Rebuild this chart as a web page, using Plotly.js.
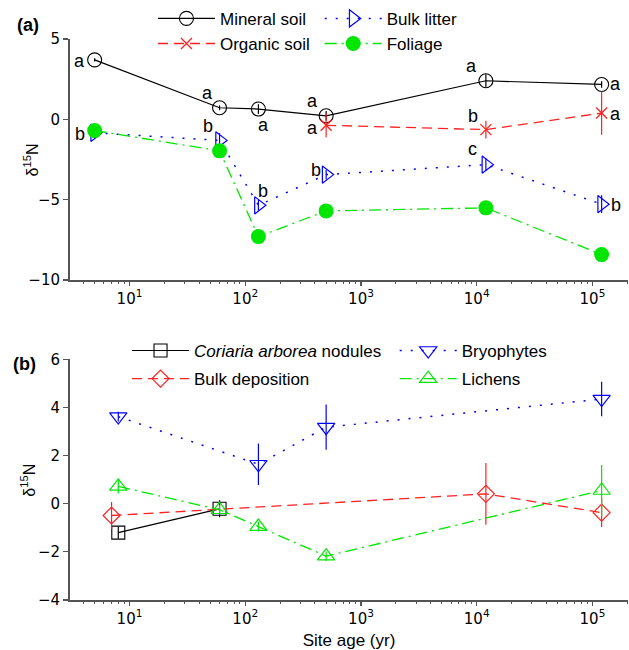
<!DOCTYPE html>
<html><head><meta charset="utf-8">
<script src="https://cdn.plot.ly/plotly-3.0.1.min.js"></script>
<style>html,body{margin:0;padding:0;background:#fff}#chart{width:629px;height:650px}</style>
</head><body><div id="chart"></div>
<script>
// ---- data: panel (a) ----
const agesA = [5, 60, 130, 500, 12000, 120000];
const mineralSoil = [3.70, 0.72, 0.64, 0.22, 2.40, 2.17];
const mineralSoilErr = [0.1, 0.15, 0.3, 0.3, 0.4, 0.2];
const agesOrganic = [500, 12000, 120000];
const organicSoil = [-0.37, -0.64, 0.39];
const organicSoilErr = [0.75, 0.55, 1.35];
const bulkLitter = [-0.84, -1.31, -5.35, -3.44, -2.82, -5.28];
const bulkLitterErr = [0.35, 0.45, 0.35, 0.3, 0.4, 0.55];
const foliage = [-0.70, -1.96, -7.30, -5.70, -5.51, -8.42];
const foliageErr = [0.2, 0.2, 0.3, 0.2, 0.2, 0.2];
const mineralLetters = ['a', 'a', 'a', 'a', 'a', 'a'];
const organicLetters = ['a', 'b', 'a'];
const litterLetters = ['b', 'b', 'b', 'b', 'c', 'b'];
// ---- data: panel (b) ----
const agesCoriaria = [8, 60];
const coriaria = [-1.2, -0.21];
const coriariaErr = [0.25, 0.35];
const agesDeposition = [7, 12000, 120000];
const deposition = [-0.49, 0.41, -0.37];
const depositionErr = [0.56, 1.28, 0.6];
const agesBryophytes = [8, 130, 500, 120000];
const bryophytes = [3.62, 1.64, 3.18, 4.35];
const bryophytesErr = [0.2, 0.86, 0.94, 0.72];
const agesLichens = [8, 60, 130, 500, 120000];
const lichens = [0.72, -0.25, -0.95, -2.18, 0.55];
const lichensErr = [0.3, 0.2, 0.2, 0.2, 1.06];
// ---- tick labels / titles ----
const xTickVals = [10, 100, 1000, 10000, 100000];
const xTickText = ['10<sup>1</sup>', '10<sup>2</sup>', '10<sup>3</sup>', '10<sup>4</sup>', '10<sup>5</sup>'];
const yTitle = 'δ<sup>15</sup>N';
const xTitle = 'Site age (yr)';

// ---- styling / placement (not data) ----
const axisColor = '#555555';
const green = '#00e600';
const FONT = 'Liberation Sans, Arial, Helvetica, sans-serif';
const TICKFONT = 'DejaVu Sans, Liberation Sans, sans-serif';
const minorVals = [];
for (let e = 0; e <= 5; e++) for (let m = 2; m <= 9; m++) minorVals.push(m * Math.pow(10, e));

function eb(arr, color) {
  return {type: 'data', array: arr, visible: true, width: 0, thickness: 1.2, color: color};
}

const traces = [
  {name: 'Mineral soil', x: agesA, y: mineralSoil, xaxis: 'x', yaxis: 'y', legend: 'legend',
   mode: 'lines+markers', line: {color: 'black', width: 1.2},
   marker: {symbol: 'circle-open', size: 14, color: 'black', line: {width: 1.1}},
   error_y: eb(mineralSoilErr, 'black')},
  {name: 'Organic soil', x: agesOrganic, y: organicSoil, xaxis: 'x', yaxis: 'y', legend: 'legend',
   mode: 'lines+markers', line: {color: '#ff2020', width: 1.3, dash: '10px,6px'},
   marker: {symbol: 'x-thin-open', size: 11, color: '#ff2020', line: {width: 1.3}},
   error_y: eb(organicSoilErr, '#ff2020')},
  {name: 'Bulk litter', x: agesA, y: bulkLitter, xaxis: 'x', yaxis: 'y', legend: 'legend2',
   mode: 'lines+markers', line: {color: '#0000ff', width: 1.5, dash: '2px,9px'},
   marker: {symbol: 'triangle-right-open', size: 15, color: '#0000ff', line: {width: 1.2}},
   error_y: eb(bulkLitterErr, '#0000ff')},
  {name: 'Foliage', x: agesA, y: foliage, xaxis: 'x', yaxis: 'y', legend: 'legend2',
   mode: 'lines+markers', line: {color: green, width: 1.3, dash: '12px,5px,2px,5px'},
   marker: {symbol: 'circle', size: 15, color: green},
   error_y: eb(foliageErr, green)},
  {name: '<i>Coriaria arborea</i> nodules', x: agesCoriaria, y: coriaria, xaxis: 'x2', yaxis: 'y2',
   legend: 'legend3', legendgroup: 'g1',
   mode: 'lines+markers', line: {color: 'black', width: 1.2},
   marker: {symbol: 'square-open', size: 13, color: 'black', line: {width: 1.1}},
   error_y: eb(coriariaErr, 'black')},
  {name: 'Bulk deposition', x: agesDeposition, y: deposition, xaxis: 'x2', yaxis: 'y2',
   legend: 'legend3', legendgroup: 'g2',
   mode: 'lines+markers', line: {color: '#ff2020', width: 1.3, dash: '10px,6px'},
   marker: {symbol: 'diamond-open', size: 13, color: '#ff2020', line: {width: 1.2}},
   error_y: eb(depositionErr, '#ff2020')},
  {name: 'Bryophytes', x: agesBryophytes, y: bryophytes, xaxis: 'x2', yaxis: 'y2',
   legend: 'legend4', legendgroup: 'g3',
   mode: 'lines+markers', line: {color: '#0000ff', width: 1.5, dash: '2px,9px'},
   marker: {symbol: 'triangle-down-open', size: 15, color: '#0000ff', line: {width: 1.2}},
   error_y: eb(bryophytesErr, '#0000ff')},
  {name: 'Lichens', x: agesLichens, y: lichens, xaxis: 'x2', yaxis: 'y2',
   legend: 'legend4', legendgroup: 'g4',
   mode: 'lines+markers', line: {color: green, width: 1.3, dash: '12px,5px,2px,5px'},
   marker: {symbol: 'triangle-up-open', size: 15, color: green, line: {width: 1.2}},
   error_y: eb(lichensErr, green)}
];

// letter placement offsets in px [dx, dy(up)]
const mineralOff = [[-15, -1], [-12, 15], [5, -16], [-14, 15], [-14, 15], [14, 0]];
const organicOff = [[-14, -2.5], [-13, 14], [14, -0.5]];
const litterOff = [[-15, -1.5], [-12, 14], [5, 14], [-10, 5], [-13, 15.5], [14, -1]];
const annotations = [];
function addLetters(ages, vals, letters, offs) {
  ages.forEach((a, i) => annotations.push({
    x: Math.log10(a), y: vals[i], xref: 'x', yref: 'y', text: letters[i], showarrow: false,
    xshift: offs[i][0], yshift: offs[i][1], font: {family: FONT, size: 18, color: '#000'}
  }));
}
addLetters(agesA, mineralSoil, mineralLetters, mineralOff);
addLetters(agesOrganic, organicSoil, organicLetters, organicOff);
addLetters(agesA, bulkLitter, litterLetters, litterOff);
function paperNote(text, x, y, size, angle) {
  annotations.push({text: text, xref: 'paper', yref: 'paper', x: x, y: y, xanchor: 'center', yanchor: 'middle',
    showarrow: false, textangle: angle || 0, font: {family: FONT, size: size, color: '#000'}});
}
paperNote('<b>(a)</b>', -0.0753, 1.025, 18);
paperNote('<b>(b)</b>', -0.0824, 0.4207, 18);
paperNote(yTitle, -0.0700, 0.7852, 16, -90);
paperNote(yTitle, -0.0753, 0.2145, 16, -90);

function xAxis(anchor, withTitle) {
  const ax = {
    type: 'log', range: [0.486, 5.307], domain: [0, 1], anchor: anchor,
    tickmode: 'array', tickvals: xTickVals, ticktext: xTickText,
    ticks: 'outside', ticklen: 4, tickwidth: 1.2, tickcolor: axisColor,
    showline: true, linecolor: axisColor, linewidth: 1.6, showgrid: false, zeroline: false,
    tickfont: {family: TICKFONT, size: 15, color: '#000'},
    minor: {tickmode: 'array', tickvals: minorVals, ticks: 'outside', ticklen: 2.5, tickcolor: axisColor, tickwidth: 1, showgrid: false}
  };
  if (withTitle) ax.title = {text: xTitle, font: {family: FONT, size: 17, color: '#000'}, standoff: 8};
  return ax;
}
function yAxis(anchor, domain, range, dtick) {
  return {
    anchor: anchor, domain: domain, range: range, tick0: 0, dtick: dtick,
    ticks: 'outside', ticklen: 5, tickwidth: 1.2, tickcolor: axisColor,
    showline: true, linecolor: axisColor, linewidth: 2, showgrid: false, zeroline: false,
    tickfont: {family: TICKFONT, size: 15, color: '#000'}
  };
}
function leg(x, y, gap) {
  return {x: x, y: y, xanchor: 'left', yanchor: 'top', orientation: 'v', bgcolor: 'rgba(0,0,0,0)',
    borderwidth: 0, itemwidth: 57, tracegroupgap: gap, font: {family: FONT, size: 17, color: '#000'}};
}

const layout = {
  width: 629, height: 650,
  margin: {l: 70, r: 1, t: 39, b: 50},
  paper_bgcolor: '#fff', plot_bgcolor: '#fff',
  font: {family: FONT, color: '#000'},
  showlegend: true,
  xaxis: xAxis('y', false),
  yaxis: yAxis('x', [0.5704, 1], [-10, 5], 5),
  xaxis2: xAxis('y2', true),
  yaxis2: yAxis('x2', [0, 0.429], [-4, 6], 2),
  legend: leg(0.1487, 1.068, 0),
  legend2: leg(0.4475, 1.068, 0),
  legend3: leg(0.1022, 0.476, 3),
  legend4: leg(0.5819, 0.476, 3),
  annotations: annotations
};

Plotly.newPlot('chart', traces, layout, {displayModeBar: false, staticPlot: true});
</script>
</body></html>
